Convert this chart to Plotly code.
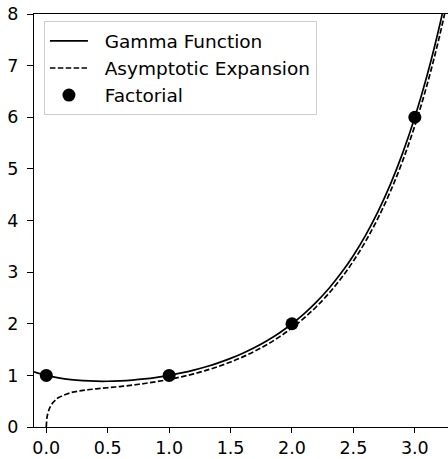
import plotly.graph_objects as go

# Gamma function Γ(x+1)
gamma_x = [-0.1, 0.0, 0.1, 0.2, 0.3, 0.4, 0.5, 0.6, 0.7, 0.8, 0.9, 1.0,
           1.1, 1.2, 1.3, 1.4, 1.5, 1.6, 1.7, 1.8, 1.9, 2.0,
           2.1, 2.2, 2.3, 2.4, 2.5, 2.6, 2.7, 2.8, 2.9, 3.0,
           3.1, 3.2, 3.3]
gamma_y = [1.069, 1.000, 0.951, 0.918, 0.898, 0.887, 0.886, 0.894, 0.909, 0.931, 0.962, 1.000,
           1.047, 1.102, 1.167, 1.242, 1.329, 1.430, 1.545, 1.677, 1.827, 2.000,
           2.198, 2.424, 2.683, 2.981, 3.323, 3.717, 4.171, 4.694, 5.300, 6.000,
           6.813, 7.757, 8.855]

# Asymptotic (Stirling) expansion
asym_x = [0.0, 0.005, 0.01, 0.02, 0.03, 0.05, 0.075, 0.1, 0.2, 0.3, 0.4, 0.5, 0.6, 0.7, 0.8, 0.9, 1.0,
          1.1, 1.2, 1.3, 1.4, 1.5, 1.6, 1.7, 1.8, 1.9, 2.0,
          2.1, 2.2, 2.3, 2.4, 2.5, 2.6, 2.7, 2.8, 2.9, 3.0,
          3.1, 3.2, 3.3]
asym_y = [0.0, 0.172, 0.237, 0.321, 0.379, 0.459, 0.524, 0.570, 0.665, 0.709, 0.737, 0.760, 0.784, 0.811, 0.843, 0.879, 0.922,
          0.972, 1.029, 1.096, 1.172, 1.258, 1.358, 1.472, 1.602, 1.750, 1.919,
          2.113, 2.334, 2.588, 2.880, 3.215, 3.600, 4.045, 4.557, 5.150, 5.836,
          6.634, 7.560, 8.637]

# Factorial points
fact_x = [0, 1, 2, 3]
fact_y = [1, 1, 2, 6]

series_names = ["Gamma Function", "Asymptotic Expansion", "Factorial"]
x_ticks = [0.0, 0.5, 1.0, 1.5, 2.0, 2.5, 3.0]
x_tick_labels = ["0.0", "0.5", "1.0", "1.5", "2.0", "2.5", "3.0"]
y_ticks = [0, 1, 2, 3, 4, 5, 6, 7, 8]

pad = "\u00a0\u00a0"  # gap between legend symbol and text

fig = go.Figure()
fig.add_trace(go.Scatter(x=gamma_x, y=gamma_y, mode="lines", name=pad + series_names[0],
                         line=dict(color="black", width=1.7, shape="spline"),
                         legendgroup="a"))
fig.add_trace(go.Scatter(x=asym_x, y=asym_y, mode="lines", name=pad + series_names[1],
                         line=dict(color="black", width=1.7, dash="5.5px,2.4px", shape="spline"),
                         legendgroup="b"))
fig.add_trace(go.Scatter(x=fact_x, y=fact_y, mode="markers", name=pad + series_names[2],
                         marker=dict(color="black", size=13),
                         legendgroup="c"))

fig.update_layout(
    width=448, height=459,
    margin=dict(l=34, r=0, t=14, b=32),
    plot_bgcolor="white", paper_bgcolor="white",
    font=dict(family="DejaVu Sans", size=17.5, color="black"),
    showlegend=True,
    legend=dict(x=0.024, y=0.982, xanchor="left", yanchor="top",
                bgcolor="rgba(255,255,255,0.8)", bordercolor="#cccccc", borderwidth=1,
                font=dict(size=18.5), traceorder="grouped", tracegroupgap=0,
                itemwidth=38),
    xaxis=dict(range=[-0.1, 3.27], tickvals=x_ticks, ticktext=x_tick_labels,
               showgrid=False, zeroline=False, showline=True, linecolor="black", linewidth=1.3,
               mirror=True, ticks="outside", ticklen=5, tickwidth=1.2, tickcolor="black",
               ticklabelstandoff=0, automargin=False),
    yaxis=dict(range=[0, 8], tickvals=y_ticks,
               showgrid=False, zeroline=False, showline=True, linecolor="black", linewidth=1.3,
               ticks="outside", ticklen=6, tickwidth=1.2, tickcolor="black",
               ticklabelstandoff=5, automargin=False),
)

fig.write_html("out.html")
